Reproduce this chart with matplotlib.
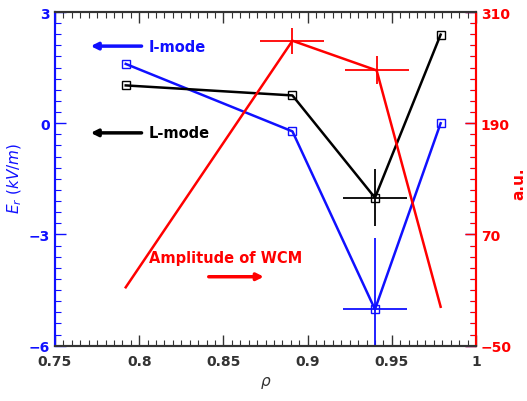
import numpy as np
import matplotlib
matplotlib.use('Agg')
import matplotlib.pyplot as plt

# datos
rho = [0.792, 0.891, 0.940, 0.979]
er_imode = [1.60, -0.22, -5.02, 0.0]
er_lmode = [1.02, 0.75, -2.01, 2.39]

rho_wcm = [0.792, 0.891, 0.941, 0.979]
amp_wcm = [13, 279, 247, -8]

# barras de error (solo en algunos puntos)
rho_err = 0.94
rho_xerr = 0.019
imode_yerr = [[3.0], [1.93]]   # abajo, arriba
lmode_yerr = [[0.77], [0.78]]
wcm_x = [0.891, 0.941]
wcm_y = [279, 247]
wcm_yerr = [14, 15]

azul = '#1010ff'
rojo = '#ff0000'

fig = plt.figure(figsize=(5.27, 4.02), dpi=100)
ax = fig.add_axes([55/527, 1 - 346.7/402, 421/527, 333.7/402])
ax2 = ax.twinx()

# Er
ax.plot(rho, er_imode, '-', color=azul, lw=1.8, marker='s', ms=5.5, mfc='none', mec=azul, mew=1)
ax.plot(rho, er_lmode, '-', color='black', lw=1.8, marker='s', ms=5.5, mfc='none', mec='black', mew=1)
ax.errorbar([rho_err], [er_imode[2]], xerr=rho_xerr, yerr=imode_yerr, fmt='none', ecolor=azul, elinewidth=1.3, capsize=0)
ax.errorbar([rho_err], [er_lmode[2]], xerr=rho_xerr, yerr=lmode_yerr, fmt='none', ecolor='black', elinewidth=1.3, capsize=0)

# amplitud WCM
ax2.plot(rho_wcm, amp_wcm, '-', color=rojo, lw=1.8)
ax2.errorbar(wcm_x, wcm_y, xerr=rho_xerr, yerr=wcm_yerr, fmt='none', ecolor=rojo, elinewidth=1.3, capsize=0)

ax.set_xlim(0.75, 1.0)
ax.set_ylim(-6, 3)
ax2.set_ylim(-50, 310)

ax.set_xticks([0.75, 0.8, 0.85, 0.9, 0.95, 1.0])
ax.set_xticklabels(['0.75', '0.8', '0.85', '0.9', '0.95', '1'])
ax.set_xticks(np.arange(0.75, 1.0001, 0.005), minor=True)
ax.set_yticks([-6, -3, 0, 3])
ax.set_yticks(np.arange(-6, 3.001, 0.3), minor=True)
ax2.set_yticks([-50, 70, 190, 310])
ax2.set_yticks(np.arange(-50, 310.01, 12), minor=True)

ax.tick_params(axis='x', which='both', direction='in', top=True, bottom=True, colors='#333333', labelsize=10, pad=6)
ax.tick_params(axis='x', which='major', length=8, width=1)
ax.tick_params(axis='x', which='minor', length=4, width=0.8)
ax.tick_params(axis='y', which='both', direction='in', left=True, right=True, colors=azul, labelsize=10)
ax.tick_params(axis='y', which='major', length=8, width=1)
ax.tick_params(axis='y', which='minor', length=4, width=0.8)
ax2.tick_params(axis='y', which='both', direction='in', colors=rojo, labelsize=10)
ax2.tick_params(axis='y', which='major', length=8, width=1)
ax2.tick_params(axis='y', which='minor', length=4, width=0.8)
for lab in ax.get_xticklabels() + ax.get_yticklabels() + ax2.get_yticklabels():
    lab.set_fontweight('bold')

for a in (ax, ax2):
    a.spines['left'].set_color(azul)
    a.spines['right'].set_color(rojo)
    a.spines['top'].set_color('#333333')
    a.spines['bottom'].set_color('#333333')
    for s in a.spines.values():
        s.set_linewidth(1.5)

ax.set_xlabel(r'$\rho$', color='#333333', fontsize=11, labelpad=4)
fig.text(15/527, 1 - 178/402, r'$E_r\ (kV/m)$', color=azul, fontsize=11, rotation=90, ha='center', va='center')
fig.text(519/527, 1 - 184/402, 'a.u.', color=rojo, fontsize=11, fontweight='bold', rotation=90, ha='center', va='center')

# anotaciones
ax.annotate('', xy=(0.7712, 2.08), xytext=(0.8014, 2.08),
            arrowprops=dict(arrowstyle='-|>', color=azul, lw=2.5, mutation_scale=10, shrinkA=0, shrinkB=0))
ax.text(0.8055, 2.08, 'I-mode', color=azul, fontsize=10.5, fontweight='bold', va='center')
ax.annotate('', xy=(0.7712, -0.26), xytext=(0.8014, -0.26),
            arrowprops=dict(arrowstyle='-|>', color='black', lw=2.5, mutation_scale=10, shrinkA=0, shrinkB=0))
ax.text(0.8055, -0.26, 'L-mode', color='black', fontsize=10.5, fontweight='bold', va='center')
ax.text(0.8058, -3.63, 'Amplitude of WCM', color=rojo, fontsize=10.5, fontweight='bold', va='center')
ax.annotate('', xy=(0.874, -4.14), xytext=(0.8413, -4.14),
            arrowprops=dict(arrowstyle='-|>', color=rojo, lw=2.5, mutation_scale=10, shrinkA=0, shrinkB=0))

fig.savefig('out.png', dpi=100)
